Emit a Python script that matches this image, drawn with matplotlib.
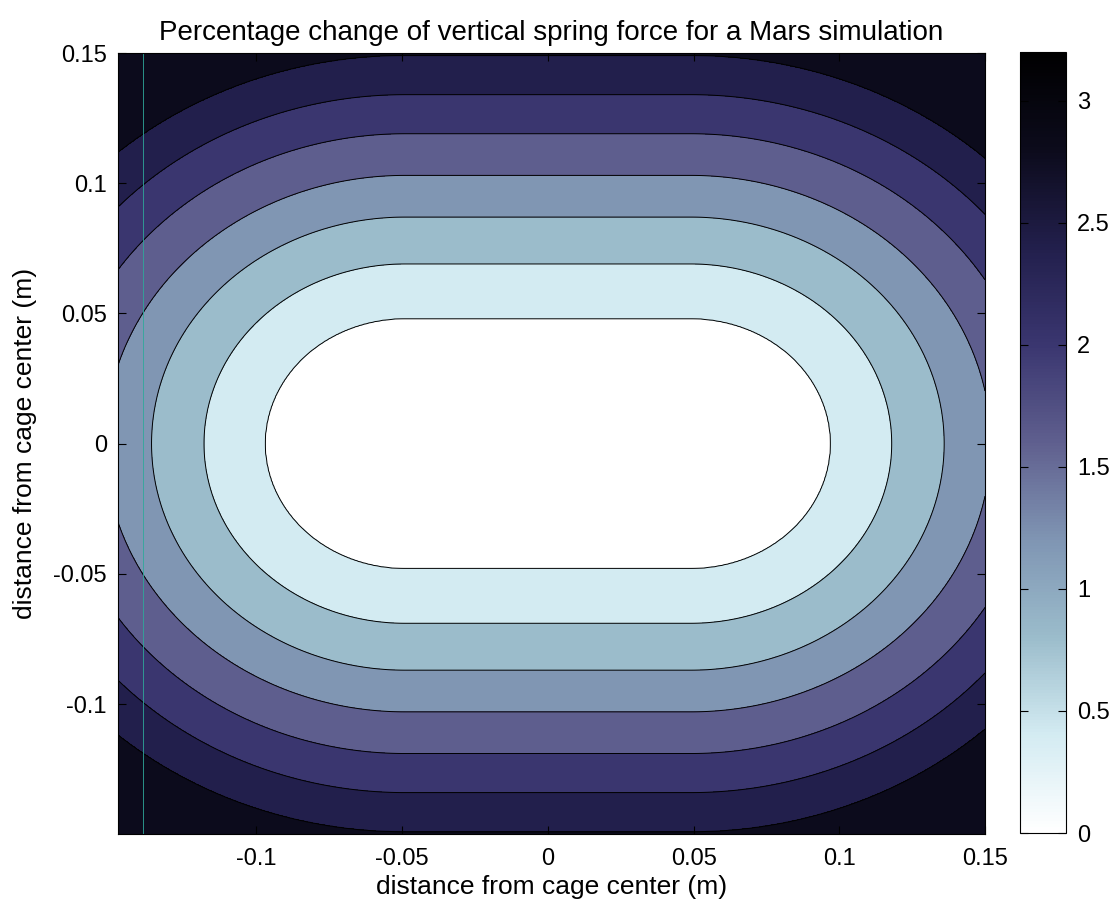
import numpy as np
import matplotlib.pyplot as plt
from matplotlib import colors as mcolors
from matplotlib.cm import ScalarMappable

plt.rcParams['font.family'] = ['Liberation Sans', 'DejaVu Sans']

# contour levels (percent) and the distance from the cage mid-line where each sits
levels = [0.0, 0.4, 0.8, 1.2, 1.6, 2.0, 2.4, 2.8, 3.2]
radius = [0.0, 0.048, 0.069, 0.087, 0.103, 0.119, 0.134, 0.149, 0.181]
half_length = 0.049          # half length of the flat part of the cage
x_lim = (-0.1475, 0.15)
y_lim = (-0.1499, 0.15)
x_ticks = [-0.1, -0.05, 0, 0.05, 0.1, 0.15]
y_ticks = [-0.1, -0.05, 0, 0.05, 0.1, 0.15]
cbar_ticks = [0, 0.5, 1, 1.5, 2, 2.5, 3]

# bluish bone-like colour scale, white at 0 to black at the top
scale_colors = ['#ffffff', '#d3ebf2', '#9bbccb', '#7f95b3', '#5f5f8e',
                '#3a3670', '#221f4c', '#0c0b1c', '#000000']

# grid over the cage
x = np.linspace(x_lim[0], x_lim[1], 600)
y = np.linspace(y_lim[0], y_lim[1], 600)
X, Y = np.meshgrid(x, y)
dx = np.clip(np.abs(X) - half_length, 0, None)
d = np.hypot(dx, Y)
Z = np.interp(d, radius, levels)

cmap = mcolors.LinearSegmentedColormap.from_list('bluebone', scale_colors)
norm = mcolors.Normalize(vmin=levels[0], vmax=levels[-1])
# each band takes the colour of its lower level
band_colors = [cmap(norm(v)) for v in levels[:-1]]

fig = plt.figure(figsize=(11.14, 9.09), dpi=100)
ax = fig.add_axes([118 / 1114, 1 - 834 / 909, 867 / 1114, 781 / 909])
ax.contourf(X, Y, Z, levels=levels, colors=band_colors)
ax.contour(X, Y, Z, levels=levels[1:-1], colors='k', linewidths=0.7)
ax.axvline(-0.139, color='#2fa89a', lw=0.6)

ax.set_xlim(x_lim)
ax.set_ylim(y_lim)
ax.set_xticks(x_ticks)
ax.set_yticks(y_ticks)
ax.set_xticklabels(['-0.1', '-0.05', '0', '0.05', '0.1', '0.15'])
ax.set_yticklabels(['-0.1', '-0.05', '0', '0.05', '0.1', '0.15'])
ax.tick_params(direction='in', length=6, top=True, right=True, labelsize=17)
ax.tick_params(axis='x', pad=10)
ax.tick_params(axis='y', pad=8)
ax.set_xlabel('distance from cage center (m)', fontsize=19, labelpad=4)
ax.set_ylabel('distance from cage center (m)', fontsize=19, labelpad=12)
ax.set_title('Percentage change of vertical spring force for a Mars simulation',
             fontsize=20, pad=9)

cax = fig.add_axes([1020 / 1114, 1 - 833 / 909, 46 / 1114, 781 / 909])
sm = ScalarMappable(norm=norm, cmap=cmap)
cb = fig.colorbar(sm, cax=cax, ticks=cbar_ticks)
cb.ax.set_yticklabels(['0', '0.5', '1', '1.5', '2', '2.5', '3'])
cb.ax.tick_params(direction='in', length=6, labelsize=17, left=True, pad=8)
cb.outline.set_linewidth(0.8)

fig.savefig('out.png', dpi=100)
